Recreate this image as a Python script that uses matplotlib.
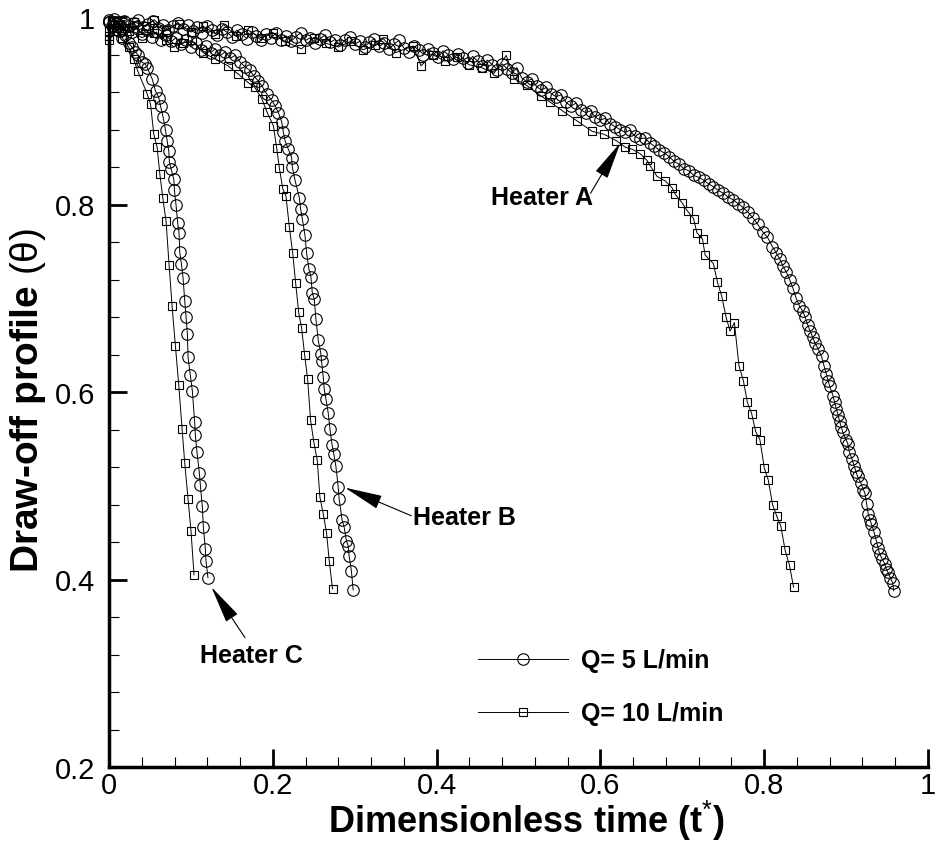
import matplotlib
matplotlib.use('Agg')
import matplotlib.pyplot as plt
from matplotlib.ticker import MultipleLocator

plt.rcParams['font.family'] = ['Liberation Sans', 'DejaVu Sans']
plt.rcParams['mathtext.fontset'] = 'custom'
plt.rcParams['mathtext.rm'] = 'Liberation Sans'
plt.rcParams['mathtext.it'] = 'Liberation Sans:italic'
plt.rcParams['mathtext.bf'] = 'Liberation Sans:bold'

# --- data ---

# Heater A, Q = 5 L/min (circles)
a5_t = [0.000, 0.006, 0.012, 0.018, 0.024, 0.030, 0.036, 0.042, 0.048, 0.054,
        0.060, 0.066, 0.072, 0.078, 0.084, 0.090, 0.096, 0.102, 0.108, 0.114,
        0.120, 0.126, 0.132, 0.138, 0.144, 0.150, 0.156, 0.162, 0.168, 0.174,
        0.180, 0.186, 0.192, 0.198, 0.204, 0.210, 0.216, 0.222, 0.228, 0.234,
        0.240, 0.246, 0.252, 0.258, 0.264, 0.270, 0.276, 0.282, 0.288, 0.294,
        0.300, 0.306, 0.312, 0.318, 0.324, 0.330, 0.336, 0.342, 0.348, 0.354,
        0.360, 0.366, 0.372, 0.378, 0.384, 0.390, 0.396, 0.402, 0.408, 0.414,
        0.420, 0.426, 0.432, 0.438, 0.444, 0.450, 0.456, 0.462, 0.468, 0.474,
        0.480, 0.486, 0.492, 0.498, 0.504, 0.510, 0.516, 0.522, 0.528, 0.534,
        0.540, 0.546, 0.552, 0.558, 0.564, 0.570, 0.576, 0.582, 0.588, 0.594,
        0.600, 0.606, 0.612, 0.618, 0.624, 0.630, 0.636, 0.642, 0.648, 0.654,
        0.660, 0.666, 0.672, 0.678, 0.684, 0.690, 0.696, 0.702, 0.708, 0.714,
        0.720, 0.726, 0.732, 0.738, 0.744, 0.750, 0.756, 0.762, 0.768, 0.774,
        0.780, 0.786, 0.792, 0.798, 0.804, 0.810, 0.815, 0.819, 0.823, 0.827,
        0.831, 0.835, 0.839, 0.843, 0.847, 0.850, 0.853, 0.856, 0.859, 0.862,
        0.866, 0.870, 0.873, 0.876, 0.878, 0.880, 0.884, 0.886, 0.888, 0.890,
        0.892, 0.894, 0.896, 0.900, 0.902, 0.904, 0.907, 0.910, 0.912, 0.914,
        0.918, 0.921, 0.923, 0.925, 0.927, 0.929, 0.931, 0.934, 0.937, 0.939,
        0.941, 0.944, 0.947, 0.949, 0.951, 0.954, 0.957, 0.958]
a5_theta = [0.995, 0.998, 0.992, 0.996, 0.990, 0.994, 0.997, 0.989, 0.993, 0.996,
            0.988, 0.992, 0.986, 0.990, 0.994, 0.987, 0.991, 0.985, 0.989, 0.983,
            0.990, 0.986, 0.981, 0.987, 0.984, 0.979, 0.986, 0.982, 0.977, 0.984,
            0.980, 0.975, 0.982, 0.978, 0.983, 0.976, 0.980, 0.974, 0.979, 0.983,
            0.975, 0.978, 0.972, 0.977, 0.981, 0.973, 0.976, 0.970, 0.975, 0.979,
            0.971, 0.974, 0.968, 0.973, 0.977, 0.969, 0.972, 0.966, 0.971, 0.975,
            0.967, 0.963, 0.969, 0.965, 0.960, 0.966, 0.962, 0.957, 0.964, 0.960,
            0.955, 0.961, 0.956, 0.951, 0.958, 0.953, 0.948, 0.954, 0.949, 0.944,
            0.950, 0.945, 0.940, 0.946, 0.935, 0.931, 0.934, 0.926, 0.922, 0.925,
            0.918, 0.915, 0.917, 0.909, 0.905, 0.908, 0.901, 0.898, 0.900, 0.893,
            0.890, 0.892, 0.886, 0.883, 0.880, 0.877, 0.879, 0.873, 0.870, 0.871,
            0.866, 0.862, 0.858, 0.855, 0.851, 0.846, 0.843, 0.838, 0.836, 0.831,
            0.829, 0.826, 0.822, 0.819, 0.815, 0.812, 0.808, 0.805, 0.801, 0.797,
            0.792, 0.786, 0.779, 0.771, 0.765, 0.755, 0.748, 0.742, 0.734, 0.728,
            0.720, 0.711, 0.700, 0.692, 0.686, 0.680, 0.672, 0.665, 0.659, 0.652,
            0.646, 0.638, 0.628, 0.619, 0.612, 0.606, 0.596, 0.589, 0.582, 0.576,
            0.569, 0.563, 0.557, 0.549, 0.545, 0.536, 0.529, 0.521, 0.515, 0.510,
            0.503, 0.496, 0.492, 0.481, 0.470, 0.464, 0.459, 0.451, 0.441, 0.434,
            0.427, 0.422, 0.417, 0.411, 0.408, 0.402, 0.396, 0.388]

# Heater A, Q = 10 L/min (squares)
a10_t = [0.000, 0.010, 0.020, 0.030, 0.045, 0.055, 0.070, 0.085, 0.100, 0.115,
         0.130, 0.140, 0.155, 0.170, 0.185, 0.200, 0.215, 0.235, 0.250, 0.265,
         0.280, 0.295, 0.310, 0.325, 0.335, 0.350, 0.371, 0.381, 0.395, 0.410,
         0.425, 0.440, 0.455, 0.470, 0.485, 0.495, 0.510, 0.527, 0.539, 0.5535,
         0.5718, 0.590, 0.6042, 0.6196, 0.6306, 0.6387, 0.6488, 0.6569, 0.6610, 0.6691,
         0.6793, 0.6873, 0.6914, 0.6995, 0.7064, 0.7137, 0.7178, 0.7247, 0.7279, 0.7380,
         0.7429, 0.7482, 0.7534, 0.7583, 0.7636, 0.7692, 0.7746, 0.7794, 0.7847, 0.7895,
         0.7948, 0.8001, 0.8050, 0.8102, 0.8151, 0.8203, 0.8256, 0.8309, 0.8358]
a10_theta = [0.985, 0.992, 0.988, 0.995, 0.990, 0.997, 0.986, 0.993, 0.984, 0.990,
             0.982, 0.992, 0.980, 0.986, 0.978, 0.983, 0.974, 0.966, 0.978, 0.972,
             0.968, 0.974, 0.965, 0.970, 0.977, 0.962, 0.969, 0.948, 0.960, 0.953,
             0.957, 0.949, 0.946, 0.940, 0.959, 0.934, 0.927, 0.916, 0.909, 0.900,
             0.889, 0.878, 0.875, 0.868, 0.861, 0.859, 0.854, 0.847, 0.841, 0.830,
             0.825, 0.818, 0.811, 0.802, 0.793, 0.785, 0.770, 0.763, 0.746, 0.737,
             0.717, 0.702, 0.680, 0.665, 0.674, 0.628, 0.612, 0.589, 0.577, 0.558,
             0.549, 0.519, 0.506, 0.480, 0.468, 0.457, 0.431, 0.415, 0.392]

# Heater B, Q = 5 L/min (circles)
b5_t = [0.000, 0.005, 0.010, 0.016, 0.022, 0.028, 0.034, 0.040, 0.046, 0.052,
        0.058, 0.064, 0.070, 0.076, 0.082, 0.088, 0.094, 0.100, 0.106, 0.112,
        0.118, 0.124, 0.130, 0.136, 0.142, 0.148, 0.154, 0.160, 0.166, 0.172,
        0.177, 0.182, 0.187, 0.1925, 0.1987, 0.2030, 0.2068, 0.2109, 0.2129, 0.2149,
        0.2190, 0.2230, 0.2238, 0.2271, 0.2324, 0.2340, 0.2360, 0.2393, 0.2413, 0.2441,
        0.2465, 0.2482, 0.2506, 0.2526, 0.2555, 0.2587, 0.2595, 0.2616, 0.2628, 0.2648,
        0.2676, 0.2697, 0.2725, 0.2745, 0.2770, 0.2798, 0.2810, 0.2847, 0.2871, 0.2899,
        0.2920, 0.2932, 0.2960, 0.2981]
b5_theta = [0.997, 0.990, 0.994, 0.986, 0.991, 0.984, 0.989, 0.982, 0.986, 0.979,
            0.984, 0.976, 0.981, 0.974, 0.978, 0.971, 0.975, 0.968, 0.972, 0.965,
            0.969, 0.962, 0.966, 0.959, 0.963, 0.956, 0.959, 0.952, 0.947, 0.943,
            0.937, 0.932, 0.926, 0.918, 0.911, 0.905, 0.898, 0.888, 0.877, 0.868,
            0.859, 0.850, 0.840, 0.826, 0.807, 0.795, 0.785, 0.767, 0.748, 0.731,
            0.723, 0.706, 0.699, 0.678, 0.655, 0.641, 0.633, 0.616, 0.603, 0.593,
            0.578, 0.561, 0.543, 0.534, 0.521, 0.499, 0.486, 0.463, 0.456, 0.441,
            0.436, 0.425, 0.409, 0.389]

# Heater B, Q = 10 L/min (squares)
b10_t = [0.000, 0.012, 0.025, 0.040, 0.055, 0.070, 0.079, 0.090, 0.101, 0.115,
         0.130, 0.145, 0.158, 0.170, 0.178, 0.1865, 0.1927, 0.2007, 0.2048, 0.2080,
         0.2121, 0.2161, 0.2202, 0.2243, 0.2279, 0.2316, 0.2352, 0.2388, 0.2425, 0.2461,
         0.2502, 0.2543, 0.2575, 0.2616, 0.2656, 0.2689, 0.2729]
b10_theta = [0.980, 0.988, 0.985, 0.978, 0.983, 0.975, 0.968, 0.972, 0.975, 0.962,
             0.955, 0.948, 0.939, 0.930, 0.925, 0.913, 0.899, 0.884, 0.860, 0.839,
             0.817, 0.809, 0.776, 0.748, 0.716, 0.685, 0.668, 0.640, 0.614, 0.570,
             0.546, 0.527, 0.488, 0.470, 0.450, 0.420, 0.390]

# Heater C, Q = 5 L/min (circles)
c5_t = [0.000, 0.004, 0.008, 0.012, 0.016, 0.020, 0.024, 0.028, 0.032, 0.036,
        0.040, 0.044, 0.0466, 0.0527, 0.0568, 0.0608, 0.0629, 0.0661, 0.0690, 0.0710,
        0.0730, 0.0738, 0.0758, 0.0791, 0.0799, 0.0819, 0.0839, 0.0855, 0.0864, 0.0884,
        0.0904, 0.0925, 0.0941, 0.0957, 0.0965, 0.0993, 0.1018, 0.1046, 0.1054, 0.1074,
        0.1103, 0.1115, 0.1139, 0.1152, 0.1176, 0.1184, 0.1208]
c5_theta = [0.995, 0.990, 0.993, 0.985, 0.978, 0.981, 0.972, 0.968, 0.963, 0.959,
            0.952, 0.950, 0.946, 0.934, 0.921, 0.914, 0.905, 0.893, 0.879, 0.868,
            0.857, 0.845, 0.838, 0.827, 0.815, 0.799, 0.780, 0.770, 0.749, 0.737,
            0.722, 0.697, 0.680, 0.662, 0.637, 0.618, 0.601, 0.568, 0.554, 0.536,
            0.514, 0.501, 0.478, 0.456, 0.433, 0.420, 0.402]

# Heater C, Q = 10 L/min (squares)
c10_t = [0.000, 0.008, 0.016, 0.024, 0.030, 0.0353, 0.0466, 0.0507, 0.0547, 0.0588,
         0.0620, 0.0657, 0.0697, 0.0734, 0.0770, 0.0811, 0.0852, 0.0892, 0.0925, 0.0965,
         0.1001, 0.1038]
c10_theta = [0.975, 0.985, 0.978, 0.968, 0.955, 0.942, 0.918, 0.907, 0.875, 0.861,
             0.833, 0.807, 0.782, 0.735, 0.692, 0.649, 0.607, 0.561, 0.524, 0.486,
             0.452, 0.405]

x_ticks = [0, 0.2, 0.4, 0.6, 0.8, 1.0]
x_tick_labels = ['0', '0.2', '0.4', '0.6', '0.8', '1']
y_ticks = [0.2, 0.4, 0.6, 0.8, 1.0]
y_tick_labels = ['0.2', '0.4', '0.6', '0.8', '1']
series_labels = ['Q= 5 L/min', 'Q= 10 L/min']

# --- figure ---
fig = plt.figure(figsize=(9.35, 8.54), dpi=100, facecolor='white')
ax = fig.add_axes([109 / 935, 86 / 854, 819 / 935, 750 / 854])

circ = dict(color='black', lw=0.7, marker='o', ms=8.3, mfc='none',
            mec='black', mew=0.8, clip_on=False)
sq = dict(color='black', lw=0.7, marker='s', ms=5.5, mfc='none',
          mec='black', mew=0.8, clip_on=False)

ax.plot(c10_t, c10_theta, **sq)
ax.plot(c5_t, c5_theta, **circ)
ax.plot(b10_t, b10_theta, **sq)
ax.plot(b5_t, b5_theta, **circ)
l10, = ax.plot(a10_t, a10_theta, **sq)
l5, = ax.plot(a5_t, a5_theta, **circ)

ax.set_xlim(0, 1)
ax.set_ylim(0.2, 1)
ax.set_xticks(x_ticks)
ax.set_xticklabels(x_tick_labels)
ax.set_yticks(y_ticks)
ax.set_yticklabels(y_tick_labels)
ax.xaxis.set_minor_locator(MultipleLocator(0.04))
ax.yaxis.set_minor_locator(MultipleLocator(0.04))
ax.tick_params(which='major', direction='in', length=13, width=2,
               labelsize=21, color='black')
ax.tick_params(which='minor', direction='in', length=7, width=0.8)
ax.tick_params(axis='x', which='major', pad=3)
ax.tick_params(axis='y', which='major', pad=10)

for side in ('top', 'right'):
    ax.spines[side].set_visible(False)
for side in ('left', 'bottom'):
    ax.spines[side].set_linewidth(2.5)

ax.set_xlabel('Dimensionless time (t$^{*}$)', fontsize=26, fontweight='bold')
ax.xaxis.set_label_coords(0.51, -0.041)
ax.set_ylabel(r'Draw-off profile $(\mathrm{\theta})$', fontsize=28, fontweight='bold')
ax.yaxis.set_label_coords(-0.075, 0.49)

# annotations
arrow = dict(arrowstyle='-|>,head_length=1.2,head_width=0.22',
             color='black', lw=0.8, shrinkA=0, shrinkB=0, mutation_scale=20)
ax.annotate('', xy=(0.6245, 0.866), xytext=(0.588, 0.812), arrowprops=arrow)
ax.text(0.529, 0.808, 'Heater A', fontsize=18, fontweight='bold',
        ha='center', va='center')
ax.annotate('', xy=(0.288, 0.498), xytext=(0.369, 0.468), arrowprops=arrow)
ax.text(0.371, 0.467, 'Heater B', fontsize=18, fontweight='bold',
        ha='left', va='center')
ax.annotate('', xy=(0.125, 0.392), xytext=(0.166, 0.338), arrowprops=arrow)
ax.text(0.174, 0.319, 'Heater C', fontsize=18, fontweight='bold',
        ha='center', va='center')

ax.legend([l5, l10], series_labels, loc='upper left',
          bbox_to_anchor=(0.451, 0.158), frameon=False,
          prop=dict(size=18, weight='bold'), handlelength=3.6,
          handletextpad=0.5, labelspacing=1.15, borderpad=0, borderaxespad=0)

fig.savefig('out.png', dpi=100, facecolor='white')
